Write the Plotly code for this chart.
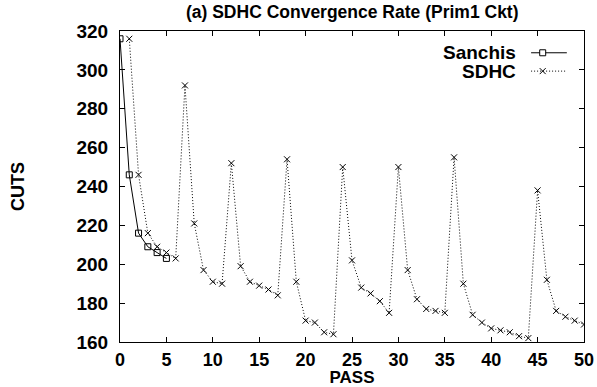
import plotly.graph_objects as go

sanchis_pass = [0, 1, 2, 3, 4, 5]
sanchis_cuts = [316, 246, 216, 209, 206, 203]

sdhc_pass = list(range(1, 51))
sdhc_cuts = [316, 246, 216, 209, 206, 203, 292, 221, 197, 191,
             190, 252, 199, 191, 189, 187, 184, 254, 191, 171,
             170, 165, 164, 250, 202, 188, 185, 181, 175, 250,
             197, 182, 177, 176, 175, 255, 190, 174, 170, 167,
             166, 165, 163, 162, 238, 192, 176, 173, 171, 169]

x_ticks = [0, 5, 10, 15, 20, 25, 30, 35, 40, 45, 50]
y_ticks = [160, 180, 200, 220, 240, 260, 280, 300, 320]

FONT = "Liberation Sans"
fig = go.Figure()
fig.add_trace(go.Scatter(
    x=sanchis_pass, y=sanchis_cuts, mode="lines+markers", name="Sanchis",
    line=dict(color="black", width=1),
    marker=dict(symbol="square-open", size=6, color="black", line=dict(width=1)),
    showlegend=False))
fig.add_trace(go.Scatter(
    x=sdhc_pass, y=sdhc_cuts, mode="lines+markers", name="SDHC",
    line=dict(color="black", width=1, dash="1px,2px"),
    marker=dict(symbol="x-thin-open", size=6, color="black", line=dict(width=1, color="black")),
    showlegend=False))

axis_common = dict(showline=True, linecolor="black", linewidth=1, mirror="allticks",
                   ticks="inside", ticklen=5, tickcolor="black", showgrid=False,
                   zeroline=False, automargin=False)

fig.update_xaxes(range=[0, 50], tickvals=x_ticks, ticktext=["<b>%d</b>" % v for v in x_ticks],
                 ticklabelstandoff=1, tickfont=dict(family=FONT, size=18, color="black"),
                 **axis_common,
                 title=dict(text="<b>PASS</b>", font=dict(family=FONT, size=17, color="black"), standoff=0))
fig.update_yaxes(range=[160, 320], tickvals=y_ticks, ticktext=["<b>%d</b>" % v for v in y_ticks],
                 ticklabelstandoff=7, tickfont=dict(family=FONT, size=19, color="black"),
                 **axis_common,
                 title=dict(text="<b>CUTS</b>", font=dict(family=FONT, size=18, color="black"), standoff=47))

# manual gnuplot-style legend (text left, sample right)
legend_items = [("Sanchis", 0.930, "solid", "square-open"), ("SDHC", 0.871, "1px,2px", "x")]
for label, yy, dash, sym in legend_items:
    fig.add_annotation(xref="paper", yref="paper", x=0.858, y=yy, text="<b>%s</b>" % label,
                       showarrow=False, xanchor="right", yanchor="middle",
                       font=dict(family=FONT, size=19, color="black"))
    fig.add_shape(type="line", xref="paper", yref="paper", x0=0.886, x1=0.963, y0=yy, y1=yy,
                  line=dict(color="black", width=1, dash=dash))
    cx, cy = 0.911, yy
    dx, dy = 3 / 464.5, 3 / 311
    if sym == "square-open":
        fig.add_shape(type="rect", xref="paper", yref="paper", x0=cx - dx, x1=cx + dx,
                      y0=cy - dy, y1=cy + dy, line=dict(color="black", width=1), fillcolor="white")
    else:
        fig.add_shape(type="line", xref="paper", yref="paper", x0=cx - dx, x1=cx + dx,
                      y0=cy - dy, y1=cy + dy, line=dict(color="black", width=1))
        fig.add_shape(type="line", xref="paper", yref="paper", x0=cx - dx, x1=cx + dx,
                      y0=cy + dy, y1=cy - dy, line=dict(color="black", width=1))

fig.update_layout(
    width=597, height=387,
    margin=dict(l=120, r=13, t=31, b=45),
    paper_bgcolor="white", plot_bgcolor="white",
    title=dict(text="<b>(a) SDHC Convergence Rate (Prim1 Ckt)</b>", x=0.59, xanchor="center",
               y=0.97, yanchor="middle", yref="container",
               font=dict(family=FONT, size=17.5, color="black")),
)
fig.write_html("out.html", config={"displayModeBar": False},
               post_script="document.body.style.margin='0';document.body.style.overflow='hidden';")
